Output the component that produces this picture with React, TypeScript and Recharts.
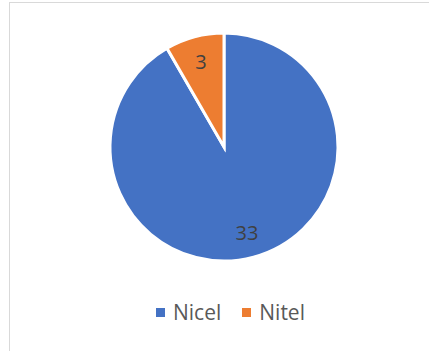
import React from "react";
import { PieChart, Pie, Cell, Legend } from "recharts";

const categories = ["Nicel", "Nitel"];
const values = [33, 3];
const colors = ["#4472C4", "#ED7D31"];

const data = categories.map((name, i) => ({ name, value: values[i] }));

const RAD = Math.PI / 180;

const renderLabel = (props: any) => {
  const { cx, cy, midAngle, outerRadius, value } = props;
  const r = outerRadius * 0.78;
  const x = cx + r * Math.cos(-midAngle * RAD);
  const y = cy + r * Math.sin(-midAngle * RAD);
  return (
    <text
      x={x}
      y={y}
      fill="#404040"
      fontSize={20}
      fontFamily="'Open Sans', sans-serif"
      textAnchor="middle"
      dominantBaseline="central"
    >
      {value}
    </text>
  );
};

const renderLegend = () => (
  <div
    style={{
      display: "flex",
      justifyContent: "flex-start",
      alignItems: "center",
      paddingLeft: 156,
      fontFamily: "'Open Sans', sans-serif",
      fontSize: 21,
      color: "#595959",
    }}
  >
    {categories.map((c, i) => (
      <div key={c} style={{ display: "flex", alignItems: "center", marginRight: i === 0 ? 21 : 0 }}>
        <span
          style={{
            display: "inline-block",
            width: 9,
            height: 9,
            background: colors[i],
            marginRight: 8,
          }}
        />
        <span>{c}</span>
      </div>
    ))}
  </div>
);

export default function App() {
  return (
    <div style={{ position: "absolute", left: 0, top: 0, width: 429, height: 351, overflow: "hidden", background: "#fff" }}>
      <div
        style={{
          position: "absolute",
          left: 9,
          top: 2,
          width: 430,
          height: 360,
          border: "1px solid #d9d9d9",
          boxSizing: "border-box",
        }}
      />
      <div style={{ position: "absolute", left: 0, top: 0 }}>
        <PieChart width={429} height={351} margin={{ top: 0, right: 0, bottom: 0, left: 0 }}>
          <Pie
            data={data}
            dataKey="value"
            nameKey="name"
            cx={224}
            cy={147}
            outerRadius={114}
            startAngle={90}
            endAngle={-270}
            stroke="#ffffff"
            strokeWidth={3}
            label={renderLabel}
            labelLine={false}
            isAnimationActive={false}
          >
            {data.map((d, i) => (
              <Cell key={d.name} fill={colors[i]} />
            ))}
          </Pie>
          <Legend
            content={renderLegend}
            layout="horizontal"
            verticalAlign="bottom"
            wrapperStyle={{ top: 298, left: 0, width: 429, bottom: "auto" }}
          />
        </PieChart>
      </div>
    </div>
  );
}
